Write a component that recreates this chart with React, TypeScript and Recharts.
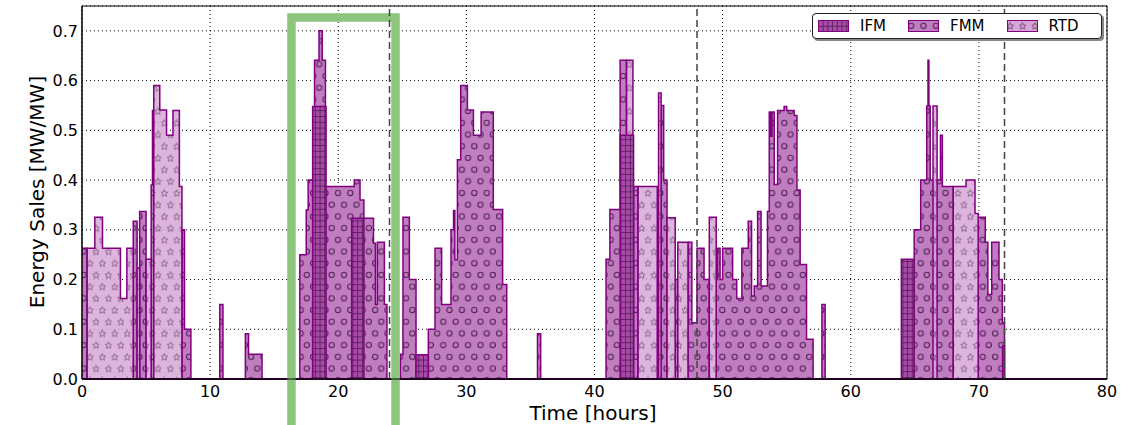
import React from 'react';
import {
  ComposedChart,
  Area,
  XAxis,
  YAxis,
  CartesianGrid,
  ReferenceLine,
  ReferenceArea,
} from 'recharts';

// hours on the x axis, MW/MW on the y axis
const X_TICKS = [0, 10, 20, 30, 40, 50, 60, 70, 80];
const Y_TICKS = [0, 0.1, 0.2, 0.3, 0.4, 0.5, 0.6, 0.7];
const DAY_BOUNDARIES = [24, 48, 72];
const HIGHLIGHT_HOURS = [16.35, 24.47];
const HIGHLIGHT_TOP = 0.727;

// [start hour, end hour, energy sales]
const IFM_BLOCKS: number[][] = [
  [18.0, 19.05, 0.548], [21.05, 22.0, 0.323], [26.07, 27.03, 0.049],
  [42.0, 43.05, 0.49], [63.95, 64.95, 0.241], [71.85, 72.0, 0.067],
];

const FMM_BLOCKS: number[][] = [
  [0, 0.4, 0.263], [4.0, 4.3, 0.317], [4.5, 5.0, 0.337], [5.4, 5.5, 0.39], [5.5, 5.6, 0.54],
  [7.8, 8.0, 0.3], [8.0, 8.5, 0.1], [10.75, 11.0, 0.15], [12.75, 13.0, 0.091], [13.0, 14.05, 0.05],
  [17.0, 17.5, 0.25], [17.5, 17.65, 0.34], [17.65, 18.15, 0.4], [18.15, 18.5, 0.641], [18.5, 18.75, 0.7],
  [18.75, 19.0, 0.641], [19.0, 21.25, 0.387], [21.25, 21.7, 0.4], [21.7, 22.0, 0.36], [22.0, 22.75, 0.323],
  [22.75, 22.9, 0.273], [22.9, 23.05, 0.15], [23.05, 23.6, 0.275], [23.6, 23.8, 0.15],
  [24.85, 25.05, 0.05], [25.05, 25.55, 0.325], [25.55, 26.07, 0.2], [27.03, 27.55, 0.1],
  [27.55, 28.07, 0.263], [28.07, 28.8, 0.15], [28.8, 29.0, 0.3], [29.0, 29.1, 0.339], [29.1, 29.3, 0.24],
  [29.3, 29.56, 0.441], [29.56, 30.08, 0.59], [30.08, 30.55, 0.541], [30.55, 31.15, 0.49],
  [31.15, 32.1, 0.537], [32.1, 32.83, 0.341], [32.83, 33.15, 0.19], [35.55, 35.8, 0.091],
  [40.9, 41.2, 0.241], [41.2, 42.0, 0.341], [42.0, 42.5, 0.641], [43.05, 43.4, 0.387], [44.9, 45.0, 0.237],
  [45.2, 45.4, 0.55], [45.4, 45.66, 0.4], [46.3, 46.5, 0.2], [47.3, 47.6, 0.275], [47.6, 48.0, 0.113],
  [48.0, 48.55, 0.263], [48.55, 48.96, 0.2], [49.5, 49.6, 0.2], [49.6, 49.8, 0.263], [49.8, 50.0, 0.2],
  [50.0, 50.78, 0.263], [50.78, 51.1, 0.2], [51.1, 51.5, 0.162], [51.5, 52.0, 0.263], [52.0, 52.26, 0.317],
  [52.26, 52.47, 0.167], [52.47, 52.73, 0.187], [52.73, 53.0, 0.337], [53.0, 53.5, 0.187],
  [53.5, 53.64, 0.337], [53.64, 53.75, 0.537], [53.75, 53.85, 0.488], [53.85, 54.03, 0.537],
  [54.03, 54.29, 0.391], [54.29, 54.8, 0.54], [54.8, 55.0, 0.548], [55.0, 55.58, 0.54], [55.58, 55.8, 0.53],
  [55.8, 56.05, 0.38], [56.05, 56.55, 0.23], [56.55, 57.06, 0.08], [57.75, 58.0, 0.15],
  [64.95, 65.46, 0.3], [65.46, 65.93, 0.4], [65.93, 66.03, 0.549], [66.03, 66.1, 0.641],
  [66.1, 66.2, 0.549], [66.2, 67.0, 0.4], [67.0, 67.15, 0.49], [67.15, 68.0, 0.387],
  [69.95, 70.5, 0.325], [70.5, 70.7, 0.275], [70.7, 71.0, 0.17], [71.0, 71.57, 0.275],
  [71.57, 71.83, 0.2], [71.83, 72.0, 0.113],
];

const RTD_BLOCKS: number[][] = [
  [0.4, 1.0, 0.263], [1.0, 1.6, 0.325], [1.6, 3.0, 0.263], [3.0, 3.5, 0.162], [3.5, 4.0, 0.263],
  [4.3, 4.5, 0.223], [5.0, 5.4, 0.241], [5.6, 6.07, 0.59], [6.07, 6.6, 0.541], [6.6, 7.1, 0.49],
  [7.1, 7.6, 0.54], [7.6, 7.8, 0.387],
  [42.5, 43.0, 0.641], [43.4, 44.9, 0.387], [45.0, 45.2, 0.575], [45.66, 46.3, 0.324],
  [46.5, 47.3, 0.275], [48.96, 49.5, 0.325],
  [66.42, 66.74, 0.549], [68.0, 69.0, 0.387], [69.0, 69.7, 0.4], [69.7, 69.95, 0.333],
];

const EDGE = '#800080';
const FONT = '"DejaVu Sans", sans-serif';

function valueAt(blocks: number[][], t: number) {
  for (const [a, b, v] of blocks) {
    if (t >= a - 1e-9 && t < b - 1e-9) return v;
  }
  return 0;
}

const breaks = Array.from(
  new Set([0, 80, ...[IFM_BLOCKS, FMM_BLOCKS, RTD_BLOCKS].flatMap((bl) => bl.flatMap(([a, b]) => [a, b]))])
).sort((a, b) => a - b);

const data = breaks.map((t) => ({
  t,
  ifm: valueAt(IFM_BLOCKS, t),
  fmm: valueAt(FMM_BLOCKS, t),
  rtd: valueAt(RTD_BLOCKS, t),
}));

function starPath(cx: number, cy: number, ro: number, ri: number) {
  let d = '';
  for (let i = 0; i < 10; i++) {
    const r = i % 2 === 0 ? ro : ri;
    const ang = -Math.PI / 2 + (i * Math.PI) / 5;
    d += (i === 0 ? 'M' : 'L') + (cx + r * Math.cos(ang)).toFixed(2) + ' ' + (cy + r * Math.sin(ang)).toFixed(2);
  }
  return d + 'Z';
}

function Patterns() {
  return (
    <defs>
      <pattern id="hatchIFM" width={4.7} height={5.8} patternUnits="userSpaceOnUse">
        <rect width={4.7} height={5.8} fill="#A64BA6" />
        <path d="M0 0.4H4.7M0.4 0V5.8" stroke="#3a0c3a" strokeWidth={0.9} opacity={0.75} />
      </pattern>
      <pattern id="hatchFMM" width={12.4} height={23.4} patternUnits="userSpaceOnUse">
        <rect width={12.4} height={23.4} fill="#C07DC0" />
        <circle cx={3.1} cy={5.8} r={2.6} fill="none" stroke="#55235a" strokeWidth={1.1} />
        <circle cx={9.3} cy={17.5} r={2.6} fill="none" stroke="#55235a" strokeWidth={1.1} />
      </pattern>
      <pattern id="hatchRTD" width={12.4} height={23.4} patternUnits="userSpaceOnUse">
        <rect width={12.4} height={23.4} fill="#D6A7D6" />
        <path d={starPath(3.1, 6.2, 3.7, 1.6)} fill="none" stroke="#734473" strokeWidth={0.9} />
        <path d={starPath(9.3, 17.9, 3.7, 1.6)} fill="none" stroke="#734473" strokeWidth={0.9} />
      </pattern>
    </defs>
  );
}

const LEGEND = [
  { name: 'IFM', fill: 'url(#hatchIFM)' },
  { name: 'FMM', fill: 'url(#hatchFMM)' },
  { name: 'RTD', fill: 'url(#hatchRTD)' },
];

function LegendBox() {
  return (
    <div
      style={{
        position: 'absolute',
        left: 812,
        top: 13,
        width: 288,
        height: 24,
        border: '1px solid #222',
        borderRadius: 4,
        background: '#fff',
        boxShadow: '2px 2px 0 #888',
        display: 'flex',
        alignItems: 'center',
        fontFamily: FONT,
        fontSize: 15,
      }}
    >
      {LEGEND.map((l, i) => (
        <div key={l.name} style={{ display: 'flex', alignItems: 'center', marginLeft: i === 0 ? 5 : 22 }}>
          <svg width={31} height={12} style={{ display: 'block' }}>
            <rect x={0.5} y={0.5} width={30} height={11} fill={l.fill} stroke={EDGE} strokeWidth={1} />
          </svg>
          <span style={{ marginLeft: 11 }}>{l.name}</span>
        </div>
      ))}
    </div>
  );
}

export default function App() {
  return (
    <div style={{ position: 'absolute', left: 0, top: 0, width: 1132, height: 425, background: '#fff', fontFamily: FONT }}>
      <ComposedChart width={1132} height={425} data={data} margin={{ top: 6, right: 25, bottom: 16, left: 22 }}>
        <Patterns />
        <CartesianGrid stroke="#000" strokeDasharray="1 3" />
        <XAxis
          dataKey="t"
          type="number"
          domain={[0, 80]}
          ticks={X_TICKS}
          height={30}
          tickLine={false}
          tickSize={0}
          tickMargin={7}
          axisLine={{ stroke: '#000' }}
          tick={{ fill: '#000', fontSize: 16, fontFamily: FONT }}
          interval={0}
        />
        <YAxis
          type="number"
          domain={[0, 0.75]}
          ticks={Y_TICKS}
          width={60}
          tickLine={false}
          tickSize={0}
          tickMargin={4}
          axisLine={{ stroke: '#000' }}
          tick={{ fill: '#000', fontSize: 16, fontFamily: FONT }}
          tickFormatter={(v: number) => v.toFixed(1)}
          interval={0}
        />
        <Area type="stepAfter" dataKey="fmm" stroke={EDGE} strokeWidth={1.5} fill="url(#hatchFMM)" fillOpacity={1} isAnimationActive={false} dot={false} activeDot={false} />
        <Area type="stepAfter" dataKey="rtd" stroke={EDGE} strokeWidth={1.5} fill="url(#hatchRTD)" fillOpacity={0.85} isAnimationActive={false} dot={false} activeDot={false} />
        <Area type="stepAfter" dataKey="ifm" stroke={EDGE} strokeWidth={1.5} fill="url(#hatchIFM)" fillOpacity={1} isAnimationActive={false} dot={false} activeDot={false} />
        {DAY_BOUNDARIES.map((h) => (
          <ReferenceLine key={h} x={h} stroke="#444" strokeWidth={1.5} strokeDasharray="7 4" />
        ))}
        <ReferenceArea x1={0} x2={80} y1={0} y2={0.75} fill="none" stroke="#000" strokeWidth={1} />
        <ReferenceArea
          x1={HIGHLIGHT_HOURS[0]}
          x2={HIGHLIGHT_HOURS[1]}
          y1={-0.12}
          y2={HIGHLIGHT_TOP}
          ifOverflow="visible"
          fill="none"
          stroke="#8DC47E"
          strokeWidth={8.5}
        />
        <text x={593} y={420} textAnchor="middle" fontSize={20} fontFamily={FONT} fill="#000">
          Time [hours]
        </text>
        <text x={44} y={192} textAnchor="middle" fontSize={20} fontFamily={FONT} fill="#000" transform="rotate(-90 44 192)">
          Energy Sales [MW/MW]
        </text>
      </ComposedChart>
      <LegendBox />
    </div>
  );
}
